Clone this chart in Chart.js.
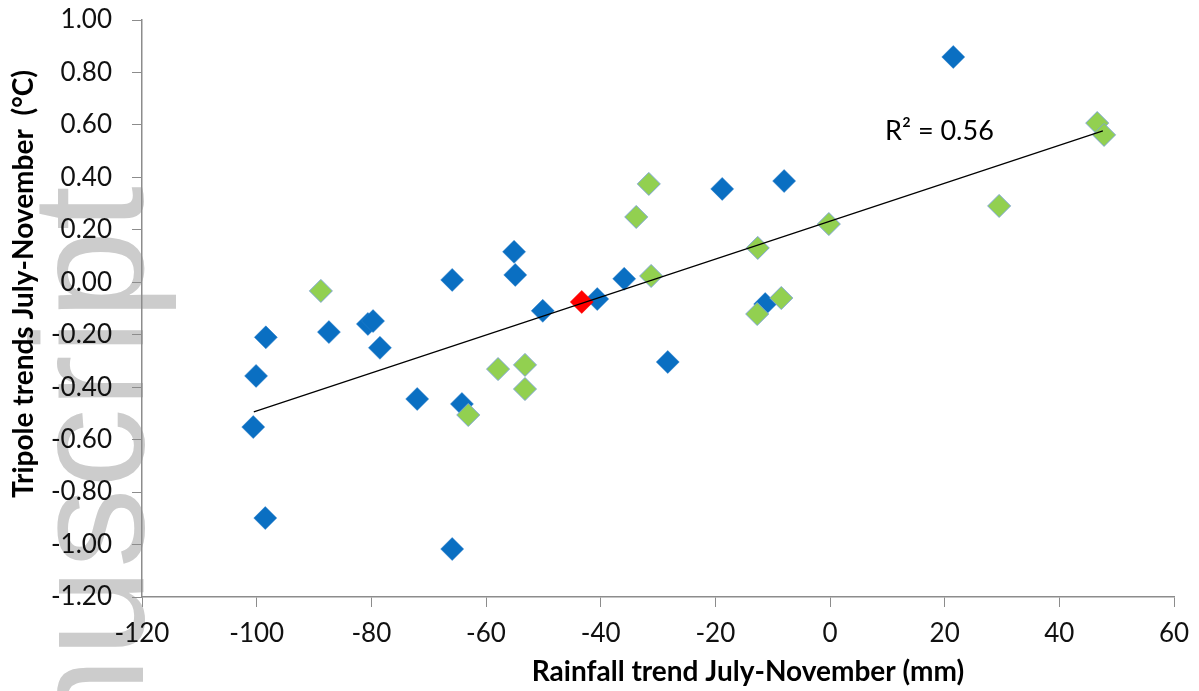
<!DOCTYPE html>
<html>
<head>
<meta charset="utf-8">
<script src="https://cdn.jsdelivr.net/npm/chart.js@4.4.1/dist/chart.umd.min.js"></script>
<style>
  html, body { margin: 0; padding: 0; background: #fff; }
  #wrap { width: 1199px; height: 691px; position: relative; }
</style>
</head>
<body>
<div id="wrap"><canvas id="c" width="1199" height="691"></canvas></div>
<script>
// ---- data ----
const blueX = [-100.6, -100.1, -98.4, -98.5, -87.4, -80.6, -79.7, -78.5, -72.0, -65.9, -65.9, -64.2, -55.1, -54.9, -50.1, -40.6, -35.9, -28.3, -18.8, -11.3, -8.0, 21.5];
const blueY = [-0.552, -0.357, -0.21, -0.899, -0.19, -0.159, -0.148, -0.25, -0.445, 0.009, -1.017, -0.464, 0.116, 0.028, -0.109, -0.064, 0.013, -0.304, 0.356, -0.083, 0.386, 0.859];

const greenX = [-88.8, -63.1, -57.9, -53.2, -53.2, -33.8, -31.6, -31.2, -12.6, -12.7, -8.5, -0.2, 29.5, 46.6, 47.8];
const greenY = [-0.033, -0.506, -0.331, -0.315, -0.407, 0.249, 0.375, 0.024, 0.131, -0.121, -0.06, 0.222, 0.291, 0.607, 0.562];

const redX = [-43.3];
const redY = [-0.075];

const trendX = [-100.5, 47.6];
const trendY = [-0.494, 0.577];

const r2Label = "R\u00B2 = 0.56";
const r2Pos = [9.6, 0.577];

const xTitle = "Rainfall trend July-November (mm)";
const yTitle = "Tripole trends July-November  (\u00B0C)";
const watermark = "manuscript";

const xMin = -120, xMax = 60, xStep = 20;
const yMin = -1.2, yMax = 1.0, yStep = 0.2;

function pts(xs, ys) { return xs.map((x, i) => ({ x: x, y: ys[i] })); }

const FONT = "Lato, 'Open Sans', 'Liberation Sans', sans-serif";

const decor = {
  id: 'decor',
  beforeDraw(chart) {
    const ctx = chart.ctx;
    ctx.save();
    ctx.fillStyle = '#ffffff';
    ctx.fillRect(0, 0, chart.width, chart.height);
    // grey watermark, rotated
    ctx.translate(143, 186);
    ctx.rotate(-Math.PI / 2);
    ctx.font = "160px 'Liberation Sans', Arial, sans-serif";
    ctx.fillStyle = 'rgb(204,204,204)';
    ctx.textAlign = 'right';
    ctx.textBaseline = 'alphabetic';
    ctx.fillText(watermark, 0, 0);
    ctx.restore();
  },
  afterDraw(chart) {
    const ctx = chart.ctx;
    const xs = chart.scales.x, ys = chart.scales.y;
    ctx.save();
    ctx.fillStyle = '#000';
    // R² label
    ctx.font = "27px " + FONT;
    ctx.textAlign = 'left';
    ctx.textBaseline = 'middle';
    ctx.fillText(r2Label, xs.getPixelForValue(r2Pos[0]), ys.getPixelForValue(r2Pos[1]));
    // x-axis title
    ctx.font = "bold 28px " + FONT;
    ctx.textAlign = 'center';
    ctx.textBaseline = 'middle';
    ctx.fillText(xTitle, 748, 672);
    // y-axis title
    ctx.translate(24, 284);
    ctx.rotate(-Math.PI / 2);
    ctx.fillText(yTitle, 0, 0);
    ctx.restore();
  }
};

new Chart(document.getElementById('c'), {
  type: 'scatter',
  data: {
    datasets: [
      {
        label: 'trend',
        type: 'line',
        data: pts(trendX, trendY),
        borderColor: '#000',
        borderWidth: 1.2,
        pointRadius: 0,
        fill: false,
        order: 0
      },
      {
        label: 'red',
        data: pts(redX, redY),
        pointStyle: 'rectRot',
        pointRadius: 11.5,
        backgroundColor: '#ff0000',
        borderColor: '#ff0000',
        borderWidth: 0.5,
        order: 1
      },
      {
        label: 'green',
        data: pts(greenX, greenY),
        pointStyle: 'rectRot',
        pointRadius: 11.5,
        backgroundColor: '#92d050',
        borderColor: '#7ea6d3',
        borderWidth: 1,
        order: 2
      },
      {
        label: 'blue',
        data: pts(blueX, blueY),
        pointStyle: 'rectRot',
        pointRadius: 11.5,
        backgroundColor: '#0a6fc2',
        borderColor: '#2a7fca',
        borderWidth: 0.5,
        order: 3
      }
    ]
  },
  options: {
    responsive: false,
    animation: false,
    events: [],
    layout: { padding: { left: 0, right: 25, top: 20, bottom: 0 } },
    plugins: { legend: { display: false }, tooltip: { enabled: false } },
    scales: {
      x: {
        type: 'linear',
        min: xMin, max: xMax,
        ticks: { stepSize: xStep, color: '#111', font: { family: FONT, size: 26 }, padding: 11, maxRotation: 0 },
        grid: { drawOnChartArea: false, drawTicks: true, tickLength: 10, color: '#8c8c8c', lineWidth: 1 },
        border: { display: true, color: '#8c8c8c', width: 1.5 },
        afterFit(scale) { scale.height = 94; scale.paddingLeft = 0; scale.paddingRight = 0; }
      },
      y: {
        type: 'linear',
        min: yMin, max: yMax,
        ticks: { stepSize: yStep, color: '#111', font: { family: FONT, size: 26 }, padding: 20,
                 callback: (v) => Number(v).toFixed(2) },
        grid: { drawOnChartArea: false, drawTicks: true, tickLength: 10, color: '#8c8c8c', lineWidth: 1 },
        border: { display: true, color: '#8c8c8c', width: 1.5 },
        afterFit(scale) { scale.width = 142; scale.paddingTop = 0; scale.paddingBottom = 0; }
      }
    }
  },
  plugins: [decor]
});
</script>
</body>
</html>
